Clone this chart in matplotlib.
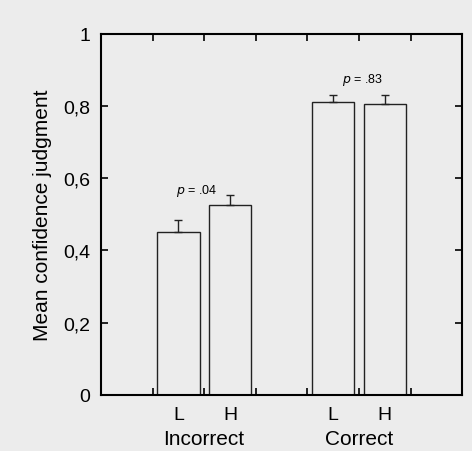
import matplotlib.pyplot as plt
import numpy as np

plt.rcParams['font.family'] = ['Liberation Sans', 'DejaVu Sans']

# datos
condiciones = ['Incorrect', 'Correct']
etiquetas = ['L', 'H', 'L', 'H']
medias = [0.45, 0.525, 0.81, 0.805]
errores = [0.035, 0.03, 0.02, 0.025]
p_textos = ['.04', '.83']

posiciones = [1.5, 2.5, 4.5, 5.5]
fondo = '#ececec'

fig = plt.figure(figsize=(4.72, 4.52), dpi=100, facecolor=fondo)
ax = fig.add_axes([0.214, 0.124, 0.765, 0.799])
ax.set_facecolor(fondo)

ax.bar(posiciones, medias, width=0.82, facecolor='none', edgecolor='#222222', linewidth=1.0)
ax.errorbar(posiciones, medias, yerr=[np.zeros(4), errores], fmt='none',
            ecolor='#222222', elinewidth=1.0, capsize=3, capthick=1.0)

ax.set_xlim(0, 7)
ax.set_ylim(0, 1)
ax.set_yticks([0, 0.2, 0.4, 0.6, 0.8, 1])
ax.set_yticklabels(['0', '0,2', '0,4', '0,6', '0,8', '1'])
ax.set_xticks([1, 2, 3, 4, 5, 6])
ax.set_xticklabels([])
ax.set_xticks(posiciones, minor=True)
ax.set_xticklabels(etiquetas, minor=True)
ax.tick_params(axis='both', which='major', direction='in', length=5, width=1.2,
               top=True, right=True, labelsize=14, pad=8)
ax.tick_params(axis='x', which='minor', length=0, labelsize=14, pad=8)
for s in ax.spines.values():
    s.set_linewidth(1.5)

ax.set_ylabel('Mean confidence judgment', fontsize=15, labelpad=8)

for i, c in enumerate(condiciones):
    ax.text((posiciones[2 * i] + posiciones[2 * i + 1]) / 2, -0.094, c,
            ha='center', va='top', fontsize=15, transform=ax.transData, clip_on=False)

ax.text(1.45, 0.567, r'$p$ = ' + p_textos[0], fontsize=9, va='center', ha='left')
ax.text(4.67, 0.875, r'$p$ = ' + p_textos[1], fontsize=9, va='center', ha='left')

plt.savefig('out.png', dpi=100, facecolor=fondo)
